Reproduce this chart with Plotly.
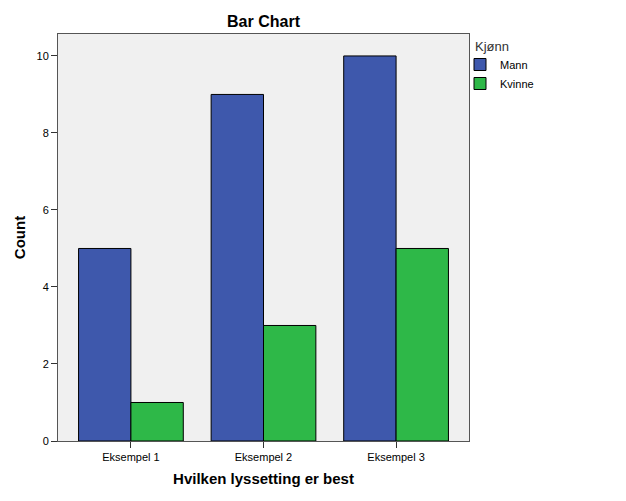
import plotly.graph_objects as go

categories = ["Eksempel 1", "Eksempel 2", "Eksempel 3"]
mann = [5, 9, 10]
kvinne = [1, 3, 5]
y_ticks = [0, 2, 4, 6, 8, 10]

fig = go.Figure()
fig.add_trace(go.Bar(name="Mann", x=categories, y=mann,
                     marker=dict(color="#3e58ac", line=dict(color="#000000", width=1))))
fig.add_trace(go.Bar(name="Kvinne", x=categories, y=kvinne,
                     marker=dict(color="#2eb848", line=dict(color="#000000", width=1))))

font_family = "Liberation Sans, Arial, sans-serif"
plot_l, plot_r = 58, 469
plot_w = plot_r - plot_l
fig.update_layout(
    width=626, height=501,
    barmode="group", bargap=0.21, bargroupgap=0,
    paper_bgcolor="white", plot_bgcolor="#f0f0f0",
    margin=dict(l=58, r=157, t=34, b=60),
    font=dict(family=font_family, color="#000000", size=11),
    title=dict(text="<b>Bar Chart</b>", x=(plot_l + plot_r) / 2 / 626, xanchor="center",
               y=1 - 21 / 501, yanchor="middle", font=dict(size=16)),
    legend=dict(x=(460 - plot_l) / plot_w, xanchor="left",
                y=1 - 16 / 407, yanchor="top",
                font=dict(size=11), tracegroupgap=0, itemwidth=30,
                bgcolor="rgba(0,0,0,0)"),
    showlegend=True,
    annotations=[dict(text="Kjønn", xref="paper", yref="paper",
                      x=(473 - plot_l) / plot_w, xanchor="left",
                      y=1 - 12 / 407, yanchor="middle", showarrow=False,
                      font=dict(size=13, color="#333333"))],
)
fig.update_xaxes(
    range=[-0.55, 2.55], showgrid=False, ticks="outside", ticklen=6,
    tickcolor="#333333", showline=True, linecolor="#555555", linewidth=1, mirror=True,
    title=dict(text="<b>Hvilken lyssetting er best</b>", font=dict(size=15), standoff=11),
    tickfont=dict(size=11),
)
fig.update_yaxes(
    range=[0, 10.57], tickvals=y_ticks, showgrid=False, zeroline=False,
    ticks="outside", ticklen=6, tickcolor="#333333",
    showline=True, linecolor="#555555", linewidth=1, mirror=True,
    title=dict(text="<b>Count</b>", font=dict(size=15), standoff=7),
    tickfont=dict(size=11),
)
fig.write_html("out.html")
